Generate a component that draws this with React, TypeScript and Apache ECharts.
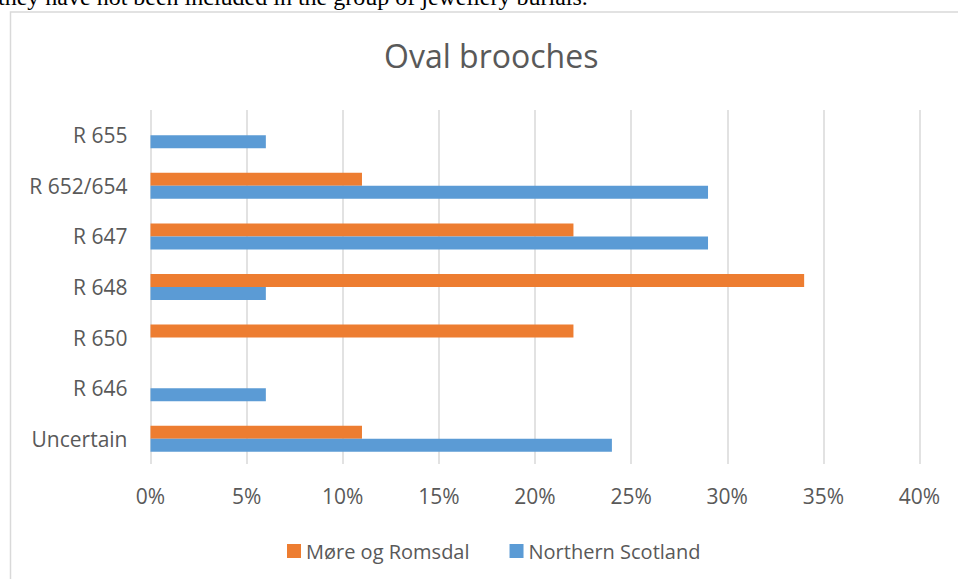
import React, { useEffect, useRef } from "react";
import * as echarts from "echarts";

const categories = ["Uncertain", "R 646", "R 650", "R 648", "R 647", "R 652/654", "R 655"];
const northernScotland = [24, 6, null, 6, 29, 29, 6];
const moreOgRomsdal = [11, null, 22, 34, 22, 11, null];
const seriesNames = ["Møre og Romsdal", "Northern Scotland"];
const title = "Oval brooches";
const caption = "they have not been included in the group of jewellery burials.";

const FONT = "'Open Sans', sans-serif";
const TEXT = "#595959";

export default function App() {
  const ref = useRef<HTMLDivElement>(null);
  useEffect(() => {
    if (!ref.current) return;
    const chart = echarts.init(ref.current, null, { renderer: "svg" });
    chart.setOption({
      animation: false,
      backgroundColor: "#ffffff",
      title: {
        text: title,
        left: 379,
        top: 34,
        textStyle: { fontFamily: FONT, fontSize: 32, fontWeight: "normal", color: TEXT },
      },
      legend: {
        data: seriesNames,
        left: 282,
        top: 536,
        itemWidth: 14,
        itemHeight: 14,
        itemGap: 40,
        icon: "rect",
        textStyle: { fontFamily: FONT, fontSize: 20, color: TEXT },
      },
      grid: { left: 150.5, right: 38.5, top: 110, bottom: 115, containLabel: false },
      xAxis: {
        type: "value",
        min: 0,
        max: 40,
        interval: 5,
        axisLabel: { formatter: "{value}%", fontFamily: FONT, fontSize: 21, color: TEXT, margin: 21 },
        axisLine: { show: false },
        axisTick: { show: false },
        splitLine: { lineStyle: { color: "#d9d9d9", width: 1.5 } },
      },
      yAxis: {
        type: "category",
        data: categories,
        axisLabel: { fontFamily: FONT, fontSize: 21, color: TEXT, margin: 23 },
        axisLine: { show: false },
        axisTick: { show: false },
      },
      graphic: [
        {
          type: "rect",
          shape: { x: 10.5, y: 12, width: 1000, height: 1000 },
          style: { fill: "none", stroke: "#d9d9d9", lineWidth: 1.5 },
          silent: true,
        },
        {
          type: "text",
          x: -2,
          y: -3,
          style: {
            text: caption,
            fontFamily: "'Liberation Serif', 'Times New Roman', serif",
            fontSize: 24,
            fill: "#000000",
            verticalAlign: "middle",
          },
          silent: true,
        },
      ],
      series: [
        {
          name: "Møre og Romsdal",
          type: "bar",
          data: moreOgRomsdal,
          barWidth: 13,
          barGap: "0%",
          itemStyle: { color: "#ED7D31" },
        },
        {
          name: "Northern Scotland",
          type: "bar",
          data: northernScotland,
          barWidth: 13,
          barGap: "0%",
          itemStyle: { color: "#5B9BD5" },
        },
      ],
    });
    return () => chart.dispose();
  }, []);
  return (
    <div
      ref={ref}
      style={{ position: "fixed", left: 0, top: 0, width: 958, height: 579 }}
    />
  );
}
